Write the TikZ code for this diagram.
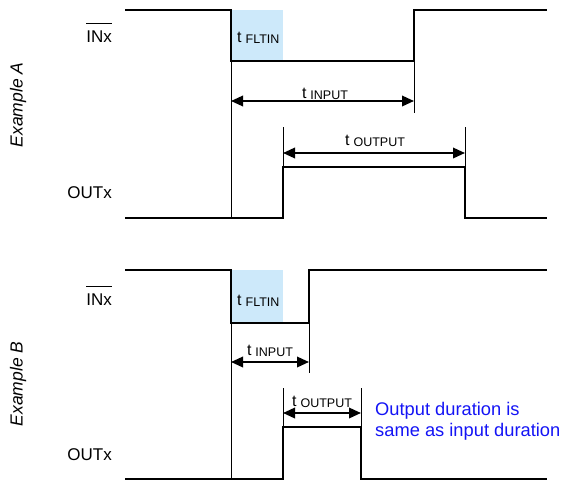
\documentclass[tikz,border=0pt]{standalone}
\usepackage{fontspec}
\setmainfont{Liberation Sans}
\usetikzlibrary{arrows.meta}
\definecolor{fltblue}{RGB}{205,233,250}
\definecolor{noteblue}{RGB}{20,20,245}
\newcommand{\tname}[1]{t\hspace{4pt}{\fontsize{12.5}{14}\selectfont\raisebox{-1pt}{#1}}}

\begin{document}
\begin{tikzpicture}[x=1pt, y=-1pt,
      sig/.style={line width=2.6pt},
      guide/.style={line width=0.9pt},
      bar/.style={line width=1.2pt},
      dim/.style={{Triangle[length=12pt,width=10.5pt]}-{Triangle[length=12pt,width=10.5pt]}, line width=1.9pt},
      lab/.style={font=\fontsize{17}{20}\selectfont, anchor=base east, inner sep=0pt},
      tl/.style={font=\fontsize{16}{19}\selectfont, anchor=base, inner sep=0pt},
      ex/.style={font=\fontsize{17.5}{20}\selectfont\itshape, rotate=90, inner sep=0pt},
      note/.style={font=\fontsize{18.3}{21}\selectfont, text=noteblue, align=left, anchor=north west, inner sep=0pt}]
    \useasboundingbox (0,0) rectangle (563,483);

    % Example A
    \node[ex] (exA) at (18,105) {Example A};
    \node[lab] (inA) at (112,42) {INx};
    \draw[bar] ([yshift=7pt]inA.north west) -- ([yshift=7pt]inA.north east);
    \node[lab] (outA) at (112,198) {OUTx};
    \fill[fltblue] (231,10) rectangle (283,61);
    \draw[sig] (125,10) -- (231,10) -- (231,61) -- (414,61) -- (414,10) -- (547,10);
    \draw[sig] (125,218) -- (283,218) -- (283,167) -- (465,167) -- (465,218) -- (547,218);
    \coordinate (fallA) at (231,61);  \coordinate (fallA-b) at (231,218);
    \coordinate (riseA) at (414,61);  \coordinate (riseA-b) at (414,113);
    \coordinate (outA-l) at (283,167); \coordinate (outA-lt) at (283,127);
    \coordinate (outA-r) at (465,167); \coordinate (outA-rt) at (465,127);
    \draw[guide] (fallA) -- (fallA-b);
    \draw[guide] (riseA) -- (riseA-b);
    \draw[guide] (outA-l) -- (outA-lt);
    \draw[guide] (outA-r) -- (outA-rt);
    \node[tl, anchor=base west] (fltA) at (237,42) {\tname{FLTIN}};
    \coordinate (tinA-l) at (231,101);  \coordinate (tinA-r) at (414,101);
    \draw[dim] (tinA-l) -- (tinA-r);
    \node[tl] (tinA) at (325,98) {\tname{INPUT}};
    \coordinate (toutA-l) at (283,153); \coordinate (toutA-r) at (465,153);
    \draw[dim] (toutA-l) -- (toutA-r);
    \node[tl] (toutA) at (375,145) {\tname{OUTPUT}};

    % Example B
    \node[ex] (exB) at (18,384) {Example B};
    \node[lab] (inB) at (112,305) {INx};
    \draw[bar] ([yshift=7pt]inB.north west) -- ([yshift=7pt]inB.north east);
    \node[lab] (outB) at (112,460) {OUTx};
    \fill[fltblue] (231,270) rectangle (283,323);
    \draw[sig] (125,270) -- (231,270) -- (231,323) -- (309,323) -- (309,270) -- (547,270);
    \draw[sig] (125,479) -- (283,479) -- (283,427) -- (361,427) -- (361,479) -- (547,479);
    \coordinate (fallB) at (231,323);  \coordinate (fallB-b) at (231,479);
    \coordinate (riseB) at (309,323);  \coordinate (riseB-b) at (309,373);
    \coordinate (outB-l) at (283,427); \coordinate (outB-lt) at (283,388);
    \coordinate (outB-r) at (361,427); \coordinate (outB-rt) at (361,388);
    \draw[guide] (fallB) -- (fallB-b);
    \draw[guide] (riseB) -- (riseB-b);
    \draw[guide] (outB-l) -- (outB-lt);
    \draw[guide] (outB-r) -- (outB-rt);
    \node[tl, anchor=base west] (fltB) at (237,305) {\tname{FLTIN}};
    \coordinate (tinB-l) at (231,362);  \coordinate (tinB-r) at (309,362);
    \draw[dim] (tinB-l) -- (tinB-r);
    \node[tl] (tinB) at (270,355) {\tname{INPUT}};
    \coordinate (toutB-l) at (283,413); \coordinate (toutB-r) at (361,413);
    \draw[dim] (toutB-l) -- (toutB-r);
    \node[tl] (toutB) at (322,406) {\tname{OUTPUT}};
    \node[note] (same) at (375,402) {Output duration is\\same as input duration};
  \end{tikzpicture}
\end{document}
